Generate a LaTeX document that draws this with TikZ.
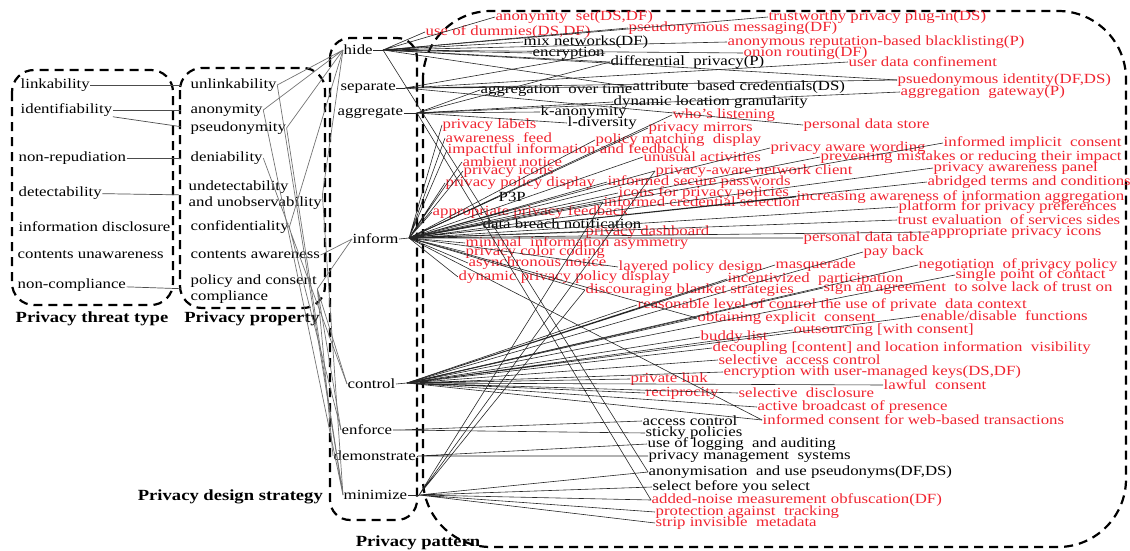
\documentclass[tikz,border=0pt]{standalone}
\usepackage{fontspec}
\setmainfont{Liberation Serif}[FakeStretch=1.2]
\usepackage{tikz}
\definecolor{ptred}{RGB}{240,36,48}
\tikzset{
  lbl/.style={anchor=west,inner sep=0.5pt,font=\fontsize{14}{16}\selectfont},
  rlbl/.style={lbl,text=ptred},
  hdr/.style={inner sep=0pt,font=\bfseries\fontsize{15.5}{18}\selectfont},
  dbox/.style={draw,line width=2.2pt,dash pattern=on 9pt off 6pt},
  ln/.style={black!85,line width=0.6pt},
  gln/.style={black!55,line width=0.7pt},
  tl/.style={black!70,line width=0.7pt,shorten >=9pt}
}

\begin{document}
\begin{tikzpicture}[x=1pt,y=-1pt]
\useasboundingbox (0,0) rectangle (1130,551);
\draw[dbox,rounded corners=22pt] (12,70) rectangle (173,305);
\draw[dbox,rounded corners=22pt] (180,68) rectangle (325,308);
\draw[dbox,rounded corners=20pt] (330,38) rectangle (417,520);
\draw[dbox,rounded corners=68pt] (423,11) rectangle (1126,547);

\node[hdr] (h1) at (92,319) {Privacy threat type};
\node[hdr] (h2) at (252,319) {Privacy property};
\node[hdr,anchor=east] (h3) at (323,497) {Privacy design strategy};
\node[hdr] (h4) at (418,543) {Privacy pattern};

\node[lbl] (lnk) at (20,85) {linkability};
\node[lbl] (idf) at (20,110) {identifiability};
\node[lbl] (nrp) at (18,158) {non-repudiation};
\node[lbl] (dtc) at (18,193) {detectability};
\node[lbl] (ids) at (18,227) {information disclosure};
\node[lbl] (cun) at (17,255) {contents unawareness};
\node[lbl] (ncp) at (17,285) {non-compliance};

\node[lbl] (unl) at (190,85) {unlinkability};
\node[lbl] (ano) at (190,110) {anonymity};
\node[lbl] (psd) at (190,128) {pseudonymity};
\node[lbl] (den) at (190,158) {deniability};
\node[lbl,align=left] (und) at (188,195) {undetectability\\and unobservability};
\node[lbl] (cnf) at (190,227) {confidentiality};
\node[lbl] (caw) at (190,255) {contents awareness};
\node[lbl,align=left] (pcc) at (190,289) {policy and consent\\compliance};

\node[lbl] (hide) at (343,50) {hide};
\node[lbl] (sep) at (340,88) {separate};
\node[lbl] (agg) at (337,113) {aggregate};
\node[lbl] (inf) at (352,239) {inform};
\node[lbl] (ctl) at (347,384) {control};
\node[lbl] (enf) at (341,430) {enforce};
\node[lbl] (dem) at (333,456) {demonstrate};
\node[lbl] (min) at (343,495) {minimize};
\coordinate (hideh) at (383,50);
\coordinate (seph) at (405,88);
\coordinate (aggh) at (417,113);
\coordinate (infh) at (409,238);
\coordinate (ctlh) at (407,383);
\coordinate (enfh) at (400,430);
\coordinate (demh) at (418,456);
\coordinate (minh) at (419,495);

\node[rlbl] (as) at (495,17) {anonymity\ \ set(DS,DF)};
\node[rlbl] (ud) at (425,32) {use of dummies(DS,DF)};
\node[rlbl] (pm) at (628,28) {pseudonymous messaging(DF)};
\node[lbl] (mn) at (523,42) {mix networks(DF)};
\node[lbl] (enc) at (532,53) {encryption};
\node[lbl] (dp) at (610,62) {differential\ \ privacy(P)};
\node[rlbl] (tpp) at (768,17) {trustworthy privacy plug-in(DS)};
\node[rlbl] (arb) at (727,42) {anonymous reputation-based blacklisting(P)};
\node[rlbl] (onr) at (743,53) {onion routing(DF)};
\node[rlbl] (udc) at (848,62) {user data confinement};
\node[rlbl] (pid) at (897,80) {psuedonymous identity(DF,DS)};
\node[rlbl] (agw) at (900,92) {aggregation\ \ gateway(P)};
\node[lbl] (abc) at (632,87) {attribute\ \ based credentials(DS)};
\node[lbl] (aot) at (480,90) {aggregation\ \ over time};
\node[lbl] (dlg) at (613,102) {dynamic location granularity};
\node[lbl] (kan) at (540,112) {k-anonymity};
\node[rlbl] (wl) at (672,115) {who's listening};
\node[lbl] (ldv) at (567,123) {l-diversity};
\node[rlbl] (pl) at (442,125) {privacy labels};
\node[rlbl] (pmr) at (648,128) {privacy mirrors};
\node[rlbl] (pds) at (803,125) {personal data store};
\node[rlbl] (af) at (445,138) {awareness\ \ feed};
\node[rlbl] (pmd) at (595,140) {policy matching\ \ display};
\node[rlbl] (iic) at (943,143) {informed implicit\ \ consent};
\node[rlbl] (iif) at (447,150) {impactful information and feedback};
\node[rlbl] (paw) at (770,148) {privacy aware wording};
\node[rlbl] (ua) at (643,157) {unusual activities};
\node[rlbl] (pmi) at (820,157) {preventing mistakes or reducing their impact};
\node[rlbl] (an) at (462,162) {ambient notice};
\node[rlbl] (pi) at (463,171) {privacy icons};
\node[rlbl] (pnc) at (655,171) {privacy-aware network client};
\node[rlbl] (pap) at (933,168) {privacy awareness panel};
\node[rlbl] (ppd) at (445,183) {privacy policy display};
\node[rlbl] (isp) at (607,182) {informed secure passwords};
\node[rlbl] (atc) at (927,182) {abridged terms and conditions};
\node[lbl] (p3p) at (498,197) {P3P};
\node[rlbl] (ipp) at (618,193) {icons for privacy policies};
\node[rlbl] (ics) at (603,202) {informed credential selection};
\node[rlbl] (iaa) at (796,197) {increasing awareness of information aggregation};
\node[rlbl] (ppp) at (898,207) {platform for privacy preferences};
\node[rlbl] (apf) at (432,212) {appropriate privacy feedback};
\node[rlbl] (tes) at (897,220) {trust evaluation\ \ of services sides};
\node[lbl] (dbn) at (482,224) {data breach notification};
\node[rlbl] (api) at (930,232) {appropriate privacy icons};
\node[rlbl] (pdb) at (585,232) {privacy dashboard};
\node[rlbl] (pdt) at (803,238) {personal data table};
\node[rlbl] (mia) at (465,243) {minimal\ \ information asymmetry};
\node[rlbl] (pb) at (863,252) {pay back};
\node[rlbl] (pcl) at (465,252) {privacy color coding};
\node[rlbl] (asn) at (468,263) {asynchronous notice};
\node[rlbl] (lpd) at (618,267) {layered policy design};
\node[rlbl] (msq) at (775,265) {masquerade};
\node[rlbl] (npp) at (918,265) {negotiation\ \ of privacy policy};
\node[rlbl] (dpp) at (458,277) {dynamic privacy policy display};
\node[rlbl] (inp) at (727,279) {incentivized\ \ participation};
\node[rlbl] (spc) at (955,275) {single point of contact};
\node[rlbl] (dbs) at (585,290) {discouraging blanket strategies};
\node[rlbl] (saa) at (823,288) {sign an agreement\ \ to solve lack of trust on};
\node[rlbl] (rlc) at (637,305) {reasonable level of control the use of private\ \ data context};
\node[rlbl] (edf) at (920,316) {enable/disable\ \ functions};
\node[rlbl] (oec) at (697,318) {obtaining explicit\ \ consent};
\node[rlbl] (out) at (793,330) {outsourcing [with consent]};
\node[rlbl] (bl) at (700,337) {buddy list};
\node[rlbl] (dec) at (712,348) {decoupling [content] and location information\ \ visibility};
\node[rlbl] (sac) at (718,360) {selective\ \ access control};
\node[rlbl] (euk) at (723,372) {encryption with user-managed keys(DS,DF)};
\node[rlbl] (pli) at (630,379) {private link};
\node[rlbl] (lc) at (883,385) {lawful\ \ consent};
\node[rlbl] (rec) at (645,393) {reciprocity};
\node[rlbl] (sd) at (738,393) {selective\ \ disclosure};
\node[rlbl] (abp) at (757,407) {active broadcast of presence};
\node[rlbl] (icw) at (762,420) {informed consent for web-based transactions};
\node[lbl] (ac) at (642,421) {access control};
\node[lbl] (sp) at (645,433) {sticky policies};
\node[lbl] (ula) at (647,444) {use of logging\ \ and auditing};
\node[lbl] (pms) at (648,456) {privacy management\ \ systems};
\node[lbl] (aup) at (648,472) {anonymisation\ \ and use pseudonyms(DF,DS)};
\node[lbl] (sby) at (652,487) {select before you select};
\node[rlbl] (anm) at (651,500) {added-noise measurement obfuscation(DF)};
\node[rlbl] (pat) at (655,512) {protection against\ \ tracking};
\node[rlbl] (sim) at (655,523) {strip invisible\ \ metadata};

\draw[tl] (lnk) -- (unl);
\draw[tl] (idf) -- (ano.west);
\draw[tl] (idf) -- (psd.west);
\draw[tl] (nrp) -- (den);
\draw[tl] (dtc) -- (und.west);
\draw[tl] (ncp) -- (pcc.west);

\draw[gln] (unl.east) -- (hide.west) (ano.east) -- (hide.west);
\draw[gln] (psd.east) -- (hide.west) (und.east) -- (hide.west);
\draw[gln] (cnf.east) -- (hide.west);
\draw[gln] (unl.east) -- (min.west) (ano.east) -- (min.west);
\draw[gln] (psd.east) -- (min.west) (und.east) -- (min.west);
\draw[gln] (den.east) -- (ctl.west) (cnf.east) -- (enf.west);
\draw[gln] (caw.east) -- (inf.west) (pcc.east) -- (inf.west);
\draw[gln] (pcc.east) -- (ctl.west) (pcc.east) -- (enf.west);
\draw[gln] (pcc.east) -- (dem.west);

\draw[ln] (hide.east) -- (hideh) (sep.east) -- (seph) (agg.east) -- (aggh);
\draw[ln] (inf.east) -- (infh) (ctl.east) -- (ctlh) (enf.east) -- (enfh);
\draw[ln] (dem.east) -- (demh) (min.east) -- (minh);

\draw[ln] (hideh) -- (as.west) (hideh) -- (ud.west) (hideh) -- (pm.west);
\draw[ln] (hideh) -- (mn.west) (hideh) -- (enc.west) (hideh) -- (tpp.west);
\draw[ln] (hideh) -- (arb.west) (hideh) -- (onr.west) (hideh) -- (pid.west);
\draw[ln] (hideh) -- (abc.west) (hideh) -- (dp.west) (hideh) -- (aup.west);

\draw[ln] (seph) -- (udc.west) (seph) -- (pds.west) (seph) -- (enc.east);
\draw[ln] (seph) -- (abc.west) (seph) -- (pid.west);

\draw[ln] (aggh) -- (aot.west) (aggh) -- (dlg.west) (aggh) -- (kan.west);
\draw[ln] (aggh) -- (ldv.west) (aggh) -- (dp.west) (aggh) -- (agw.west);
\draw[ln] (aggh) -- (anm.west);

\draw[ln] (infh) -- (pl.west) (infh) -- (af.west) (infh) -- (iif.west);
\draw[ln] (infh) -- (an.west) (infh) -- (pi.west) (infh) -- (ppd.west);
\draw[ln] (infh) -- (p3p.west) (infh) -- (apf.west) (infh) -- (dbn.west);
\draw[ln] (infh) -- (pdb.west) (infh) -- (mia.west) (infh) -- (pcl.west);
\draw[ln] (infh) -- (asn.west) (infh) -- (dpp.west) (infh) -- (wl.west);
\draw[ln] (infh) -- (pmr.west) (infh) -- (pmd.west) (infh) -- (ua.west);
\draw[ln] (infh) -- (pnc.west) (infh) -- (isp.west) (infh) -- (ipp.west);
\draw[ln] (infh) -- (ics.west) (infh) -- (lpd.west) (infh) -- (dbs.west);
\draw[ln] (infh) -- (paw.west) (infh) -- (iic.west) (infh) -- (pmi.west);
\draw[ln] (infh) -- (pap.west) (infh) -- (atc.west) (infh) -- (iaa.west);
\draw[ln] (infh) -- (ppp.west) (infh) -- (tes.west) (infh) -- (api.west);
\draw[ln] (infh) -- (pdt.west) (infh) -- (icw.west) (infh) -- (oec.west);

\draw[ln] (ctlh) -- (msq.west) (ctlh) -- (npp.west) (ctlh) -- (inp.west);
\draw[ln] (ctlh) -- (spc.west) (ctlh) -- (saa.west) (ctlh) -- (rlc.west);
\draw[ln] (ctlh) -- (edf.west) (ctlh) -- (oec.west) (ctlh) -- (out.west);
\draw[ln] (ctlh) -- (bl.west) (ctlh) -- (dec.west) (ctlh) -- (sac.west);
\draw[ln] (ctlh) -- (euk.west) (ctlh) -- (pli.west) (ctlh) -- (lc.west);
\draw[ln] (ctlh) -- (rec.west) (ctlh) -- (sd.west) (ctlh) -- (abp.west);
\draw[ln] (ctlh) -- (icw.west) (ctlh) -- (pb.west);

\draw[ln] (enfh) -- (ac.west) (enfh) -- (sp.west);
\draw[ln] (demh) -- (ula.west) (demh) -- (pms.west);

\draw[ln] (minh) -- (aup.west) (minh) -- (sby.west) (minh) -- (anm.west);
\draw[ln] (minh) -- (pat.west) (minh) -- (sim.west);
\draw[ln] (minh) -- (pnc.west) (minh) -- (ics.west) (minh) -- (dbs.west);
\end{tikzpicture}
\end{document}
